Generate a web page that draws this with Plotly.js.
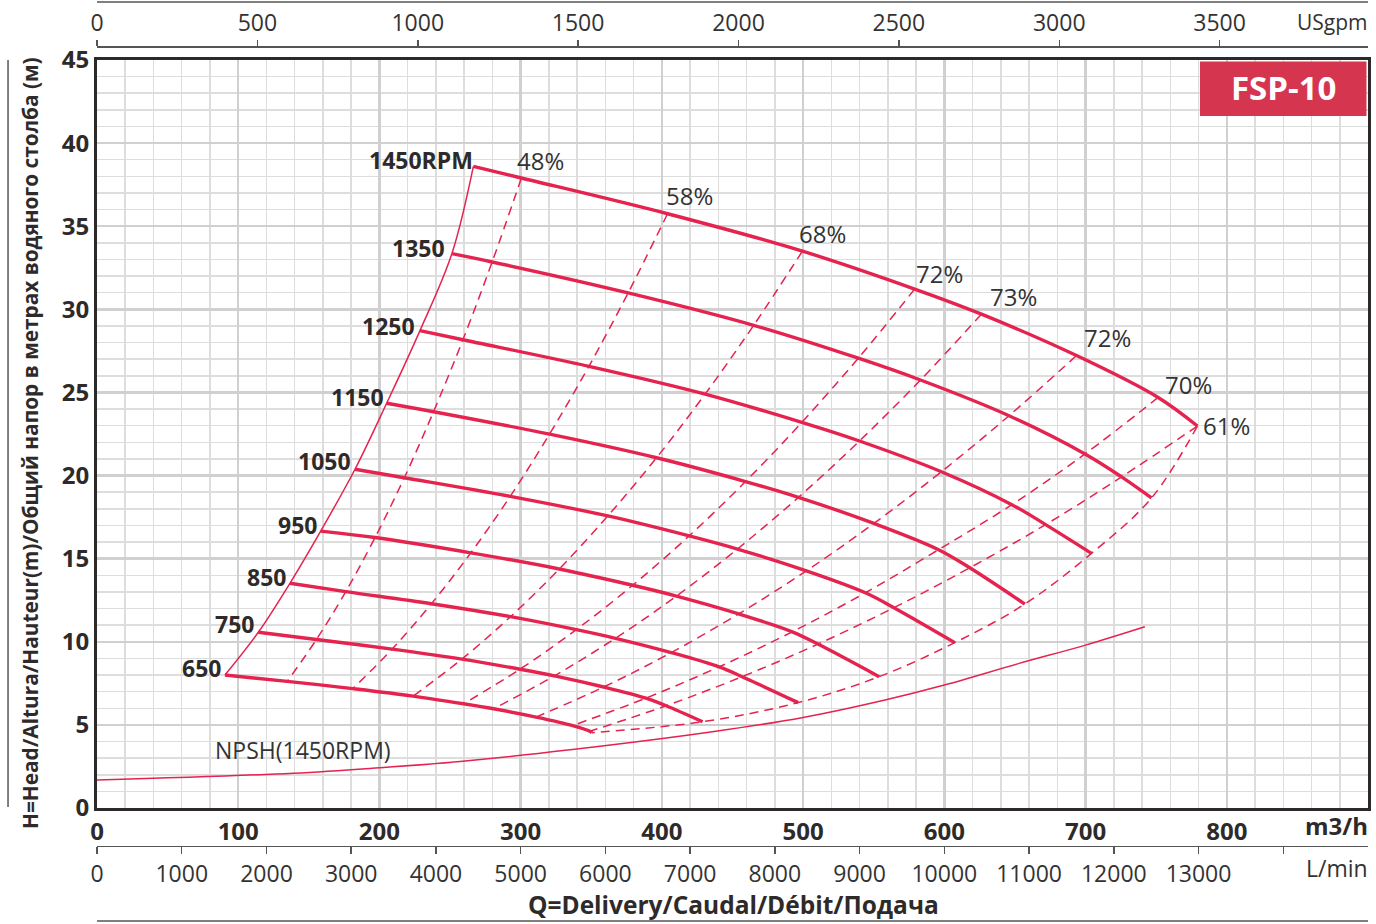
<!DOCTYPE html>
<html>
<head>
<meta charset="utf-8">
<script src="https://cdn.plot.ly/plotly-3.0.1.min.js"></script>
<style>
html,body{margin:0;padding:0;background:#fff;}
#chart{width:1376px;height:924px;}
</style>
</head>
<body>
<div id="chart"></div>
<script>
// ---------------- DATA ----------------
// Speeds (rpm) and their labels
const speeds = [1450, 1350, 1250, 1150, 1050, 950, 850, 750, 650];
const speedLabels = ['1450RPM', '1350', '1250', '1150', '1050', '950', '850', '750', '650'];
// Efficiency iso-lines, in order of intersection along each speed curve
const effLabels = ['48%', '58%', '68%', '72%', '73%', '72%', '70%', '61%'];

// Each speed curve: [start, 48%, 58%, 68%, 72%, 73%, 72%, 70%, 61%]  (Q in m3/h, H in m)
const q1450 = [266.5, 300.5, 404.0, 499.5, 579.0, 626.3, 693.6, 751.4, 779.2];
const h1450 = [38.60, 37.90, 35.75, 33.50, 31.22, 29.71, 27.22, 24.70, 22.98];
const q1350 = [251.3, 279.8, 376.1, 465.0, 539.1, 583.1, 645.8, 699.6, 725.5];
const h1350 = [33.35, 32.85, 30.99, 29.04, 27.06, 25.75, 23.60, 21.30, 19.92];
const q1250 = [228.7, 259.1, 348.3, 430.6, 499.1, 539.9, 597.9, 647.8, 671.7];
const h1250 = [28.72, 28.17, 26.57, 24.90, 23.20, 22.08, 20.23, 18.25, 17.05];
const q1150 = [205.1, 238.3, 320.4, 396.2, 459.2, 496.7, 550.1, 595.9, 618.0];
const h1150 = [24.35, 23.84, 22.49, 21.07, 19.64, 18.69, 17.12, 15.54, 14.45];
const q1050 = [182.7, 217.6, 292.6, 361.7, 419.3, 453.5, 502.3, 544.1, 564.3];
const h1050 = [20.38, 19.87, 18.75, 17.57, 16.37, 15.58, 14.27, 12.95, 12.05];
const q950  = [158.4, 196.9, 264.7, 327.3, 379.3, 410.3, 454.4, 492.3, 510.5];
const h950  = [16.66, 16.27, 15.35, 14.38, 13.40, 12.75, 11.68, 10.60, 9.86];
const q850  = [136.6, 176.2, 236.8, 292.8, 339.4, 367.1, 406.6, 440.5, 456.8];
const h850  = [13.52, 13.02, 12.29, 11.51, 10.73, 10.21, 9.35, 8.49, 7.90];
const q750  = [114.2, 155.4, 209.0, 258.4, 299.5, 323.9, 358.8, 388.7, 403.0];
const h750  = [10.57, 10.14, 9.56, 8.96, 8.35, 7.95, 7.28, 6.61, 6.15];
const q650  = [90.6, 134.7, 181.1, 223.9, 259.6, 280.8, 310.9, 336.8, 349.0];
const h650  = [8.00, 7.62, 7.18, 6.73, 6.27, 5.97, 5.47, 4.96, 4.62];

// End of each speed curve (1450 -> 650)
const endQ = [779.2, 746.7, 704.2, 657.0, 607.4, 553.8, 496.5, 428.8, 350.4];
const endH = [22.98, 18.65, 15.32, 12.27, 9.95, 7.90, 6.34, 5.19, 4.53];

// NPSH (1450 rpm)
const npshQ = [0, 139, 200, 257, 335, 437, 500, 558, 600, 653, 700, 742];
const npshH = [1.68, 2.09, 2.42, 2.80, 3.50, 4.60, 5.45, 6.50, 7.40, 8.70, 9.80, 10.90];

// Axis tick values
const m3hTicks = [0, 100, 200, 300, 400, 500, 600, 700, 800];
const headTicks = [0, 5, 10, 15, 20, 25, 30, 35, 40, 45];
const gpmTicks = [0, 500, 1000, 1500, 2000, 2500, 3000, 3500];
const lminTicks = [0, 1000, 2000, 3000, 4000, 5000, 6000, 7000, 8000, 9000, 10000, 11000, 12000, 13000, 14000];
const lminLabels = ['0','1000','2000','3000','4000','5000','6000','7000','8000','9000','10000','11000','12000','13000',''];

// ---------------- STYLE ----------------
const RED = '#e4234f';
const BOX = '#d6354f';
const TXT = '#2f2a2a';
const FONT = 'Open Sans, Noto Sans, sans-serif';
const effLabelOffsets = [[-6,18],[-4,18],[-5,18],[-1,16],[7,18],[5,18],[5,13],[4,1]];
const speedLabelShift = [[2,6],[-5,6],[-3,5],[-1,6],[-2,8],[-2,6],[-2,6],[-2,8],[-2,7]];

const curveQ = [q1450, q1350, q1250, q1150, q1050, q950, q850, q750, q650];
const curveH = [h1450, h1350, h1250, h1150, h1050, h950, h850, h750, h650];

const dashStyle = {color: RED, width: 1.5, dash: '9px,6px', shape: 'spline'};
const traces = [];
// efficiency dashed lines
effLabels.forEach((lab, j) => {
  traces.push({
    x: curveQ.map(a => a[j + 1]), y: curveH.map(a => a[j + 1]),
    mode: 'lines', line: dashStyle, hoverinfo: 'skip', showlegend: false
  });
});
// end-of-curve dashed line
traces.push({x: endQ, y: endH, mode: 'lines', line: dashStyle, hoverinfo: 'skip', showlegend: false});
// left boundary (thin solid)
traces.push({x: curveQ.map(a => a[0]), y: curveH.map(a => a[0]), mode: 'lines',
  line: {color: RED, width: 1.5, shape: 'spline'}, hoverinfo: 'skip', showlegend: false});
// NPSH
traces.push({x: npshQ, y: npshH, mode: 'lines',
  line: {color: RED, width: 1.5, shape: 'spline'}, hoverinfo: 'skip', showlegend: false});
// speed curves
speeds.forEach((s, i) => {
  const xs = curveQ[i].slice(), ys = curveH[i].slice();
  if (endQ[i] > xs[xs.length - 1] + 0.5) { xs.push(endQ[i]); ys.push(endH[i]); }
  traces.push({x: xs, y: ys, mode: 'lines', name: String(s),
    line: {color: RED, width: 3.4, shape: 'spline'}, hoverinfo: 'skip', showlegend: false});
});
// carrier traces for the secondary axes
traces.push({x: [], y: [], xaxis: 'x2', yaxis: 'y', mode: 'lines', hoverinfo: 'skip', showlegend: false});
traces.push({x: [], y: [], xaxis: 'x3', yaxis: 'y', mode: 'lines', hoverinfo: 'skip', showlegend: false});

const annotations = [];
effLabels.forEach((lab, j) => {
  annotations.push({x: q1450[j + 1], y: h1450[j + 1], xref: 'x', yref: 'y', text: lab,
    showarrow: false, xanchor: 'left', yanchor: 'middle',
    xshift: effLabelOffsets[j][0], yshift: effLabelOffsets[j][1],
    font: {family: FONT, size: 24, color: '#333'}});
});
speedLabels.forEach((lab, i) => {
  annotations.push({x: curveQ[i][0], y: curveH[i][0], xref: 'x', yref: 'y', text: lab,
    showarrow: false, xanchor: 'right', yanchor: 'middle',
    xshift: speedLabelShift[i][0], yshift: speedLabelShift[i][1],
    font: {family: FONT, size: 23, color: TXT, weight: 700}});
});
annotations.push({x: 82, y: 3.5, xref: 'x', yref: 'y', text: 'NPSH(1450RPM)', showarrow: false,
  xanchor: 'left', yanchor: 'middle', font: {family: FONT, size: 23, color: '#333'}});
annotations.push({x: 1.0015, y: 0.9762, xref: 'paper', yref: 'paper', text: 'USgpm', showarrow: false,
  xanchor: 'right', yanchor: 'middle', font: {family: FONT, size: 21, color: '#333'}});
annotations.push({x: 1.0015, y: 0.1061, xref: 'paper', yref: 'paper', text: 'm3/h', showarrow: false,
  xanchor: 'right', yanchor: 'middle', font: {family: FONT, size: 24, color: TXT, weight: 700}});
annotations.push({x: 1.0015, y: 0.0606, xref: 'paper', yref: 'paper', text: 'L/min', showarrow: false,
  xanchor: 'right', yanchor: 'middle', font: {family: FONT, size: 23, color: '#333'}});
annotations.push({x: 0.5004, y: 0.0206, xref: 'paper', yref: 'paper', text: 'Q=Delivery/Caudal/Débit/Подача',
  showarrow: false, xanchor: 'center', yanchor: 'middle', font: {family: FONT, size: 24.5, color: TXT, weight: 700}});
annotations.push({x: -0.0527, y: 0.5206, xref: 'paper', yref: 'paper', textangle: -90,
  text: 'H=Head/Altura/Hauteur(m)/Общий напор в метрах водяного столба (м)',
  showarrow: false, xanchor: 'center', yanchor: 'middle', font: {family: FONT, size: 20.8, color: TXT, weight: 700}});
annotations.push({x: 0.9339, y: 0.9048, xref: 'paper', yref: 'paper', text: 'FSP-10', showarrow: false,
  xanchor: 'center', yanchor: 'middle', font: {family: FONT, size: 33, color: '#ffffff', weight: 700}});

const shapes = [
  {type: 'rect', xref: 'paper', yref: 'paper', x0: 0.8678, x1: 0.9988, y0: 0.8745, y1: 0.9334,
   fillcolor: BOX, line: {width: 0}, layer: 'above'},
  {type: 'line', xref: 'paper', yref: 'paper', x0: 0, x1: 1, y0: 0.9978, y1: 0.9978, line: {color: '#555', width: 1.5}},
  {type: 'line', xref: 'paper', yref: 'paper', x0: 0, x1: 1, y0: 0.0032, y1: 0.0032, line: {color: '#555', width: 1.5}},
  {type: 'line', xref: 'paper', yref: 'paper', x0: -0.0700, x1: -0.0700, y0: 0.1266, y1: 0.9351, line: {color: '#555', width: 1.5}}
];

const gridMajor = '#d0d0d0', gridMinor = '#dddddd';
const layout = {
  width: 1376, height: 924,
  margin: {l: 97, r: 8, t: 0, b: 0, pad: 0},
  paper_bgcolor: '#fff', plot_bgcolor: '#fff',
  font: {family: FONT, color: '#333'},
  showlegend: false,
  xaxis: {
    range: [0, 900], domain: [0, 1], anchor: 'y',
    tickmode: 'array', tickvals: m3hTicks, ticks: '',
    tickfont: {family: FONT, size: 24, color: TXT, weight: 700},
    showgrid: true, gridcolor: gridMajor, gridwidth: 2.5,
    minor: {tickmode: 'linear', tick0: 0, dtick: 20, showgrid: true, gridcolor: gridMinor, gridwidth: 1.5, ticks: ''},
    showline: true, mirror: true, linecolor: '#2d2929', linewidth: 3,
    zeroline: false, fixedrange: true
  },
  yaxis: {
    range: [0, 45], domain: [0.12554, 0.93506], anchor: 'x',
    tickmode: 'array', tickvals: headTicks, ticks: '',
    tickfont: {family: FONT, size: 24, color: TXT, weight: 700},
    showgrid: true, gridcolor: gridMajor, gridwidth: 2.5,
    minor: {tickmode: 'linear', tick0: 0, dtick: 1, showgrid: true, gridcolor: gridMinor, gridwidth: 1.5, ticks: ''},
    showline: true, mirror: true, linecolor: '#2d2929', linewidth: 3,
    zeroline: false, fixedrange: true
  },
  xaxis2: {
    overlaying: 'x', side: 'top', anchor: 'free', position: 0.9502,
    range: [0, 3962.6], tickmode: 'array', tickvals: gpmTicks,
    ticks: 'outside', ticklen: 6, tickwidth: 1.5, tickcolor: '#555',
    tickfont: {family: FONT, size: 23, color: '#333'},
    showline: true, linecolor: '#555', linewidth: 1.5, showgrid: false, zeroline: false, fixedrange: true
  },
  xaxis3: {
    overlaying: 'x', side: 'bottom', anchor: 'free', position: 0.08442,
    range: [0, 15000], tickmode: 'array', tickvals: lminTicks, ticktext: lminLabels,
    ticks: 'outside', ticklen: 7, tickwidth: 1.5, tickcolor: '#555',
    tickfont: {family: FONT, size: 23, color: '#333'},
    showline: true, linecolor: '#555', linewidth: 1.5, showgrid: false, zeroline: false, fixedrange: true
  },
  annotations: annotations,
  shapes: shapes
};

Plotly.newPlot('chart', traces, layout, {staticPlot: true, displayModeBar: false});
</script>
</body>
</html>
